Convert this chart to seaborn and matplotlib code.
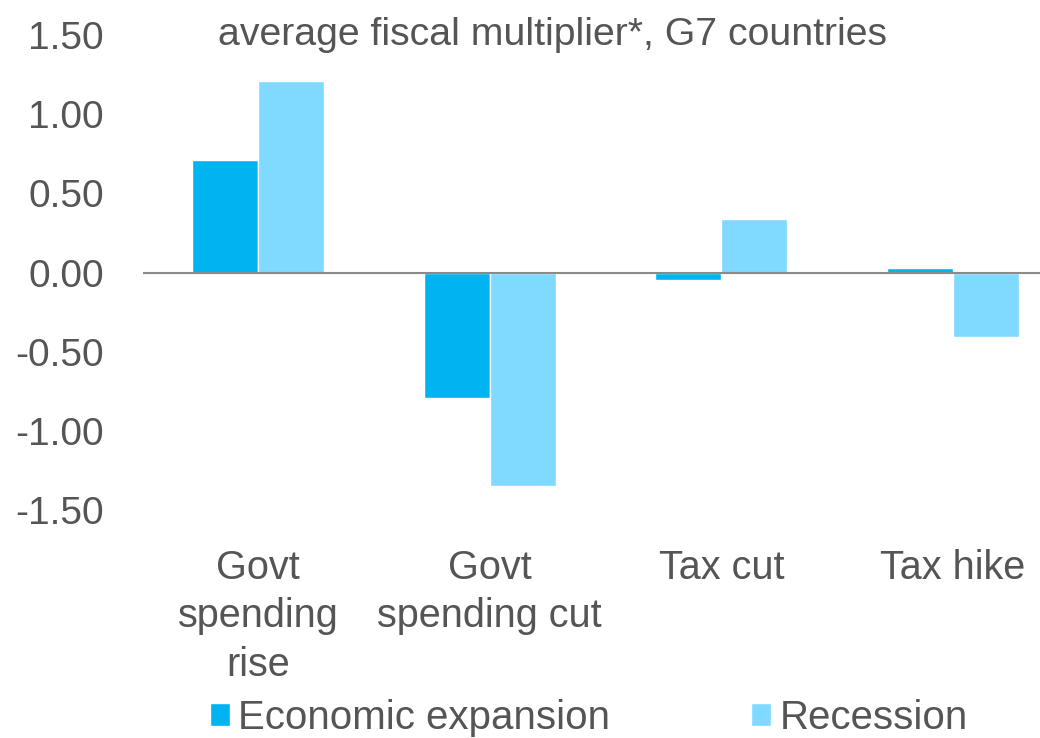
import matplotlib
matplotlib.use("Agg")
import matplotlib.pyplot as plt
import matplotlib.transforms as mtrans
import seaborn as sns
import pandas as pd

categories = ["Govt\nspending\nrise", "Govt\nspending cut", "Tax cut", "Tax hike"]
series_names = ["Economic expansion", "Recession"]
expansion = [0.71, -0.79, -0.05, 0.03]
recession = [1.21, -1.35, 0.34, -0.41]
yticks = [1.5, 1.0, 0.5, 0.0, -0.5, -1.0, -1.5]
title = "average fiscal multiplier*, G7 countries"

sns.set_theme(style="white")
plt.rcParams["font.family"] = ["Liberation Sans", "DejaVu Sans"]
text_color = "#555555"

df = pd.DataFrame({
    "category": categories * 2,
    "series": [series_names[0]] * 4 + [series_names[1]] * 4,
    "value": expansion + recession,
})
palette = {series_names[0]: "#00B4F2", series_names[1]: "#80D9FF"}

fig = plt.figure(figsize=(10.4, 7.38), dpi=100)
ax = fig.add_axes([0.1375, 0.309, 0.8625, 0.6435])
sns.barplot(data=df, x="category", y="value", hue="series", order=categories,
            hue_order=series_names, palette=palette, width=0.57, saturation=1,
            gap=0, ax=ax, errorbar=None)

ax.axhline(0, color="#8a8a8a", lw=1.5, zorder=3)
ax.set_ylim(-1.5, 1.5)
ax.set_xlim(-0.496, 3.375)
ax.set_yticks(yticks)
ax.set_yticklabels([f"{v:.2f}" for v in yticks], fontsize=28, color=text_color)
ax.tick_params(axis="y", length=0, pad=28)
ax.tick_params(axis="x", length=0, pad=28)
for lab in ax.get_xticklabels():
    lab.set_fontsize(28.5)
    lab.set_color(text_color)
    lab.set_linespacing(1.35)
    lab.set_verticalalignment("top")
ax.set_xlabel("")
ax.set_ylabel("")
for s in ax.spines.values():
    s.set_visible(False)
ax.set_facecolor("white")

ax.text(0.457, 1.5, title,
        transform=mtrans.blended_transform_factory(ax.transAxes, ax.transData),
        ha="center", va="center", fontsize=28.3, color=text_color)

handles, labels = ax.get_legend_handles_labels()
if ax.legend_:
    ax.legend_.remove()
fig.legend(handles, labels, loc="center left", bbox_to_anchor=(0.202, 0.027),
           ncol=2, frameon=False, handlelength=0.5, handleheight=0.5,
           handletextpad=0.2, columnspacing=3.5, labelcolor=text_color,
           borderaxespad=0, borderpad=0, prop={"size": 29})

fig.savefig("out.png", dpi=100, facecolor="white")
